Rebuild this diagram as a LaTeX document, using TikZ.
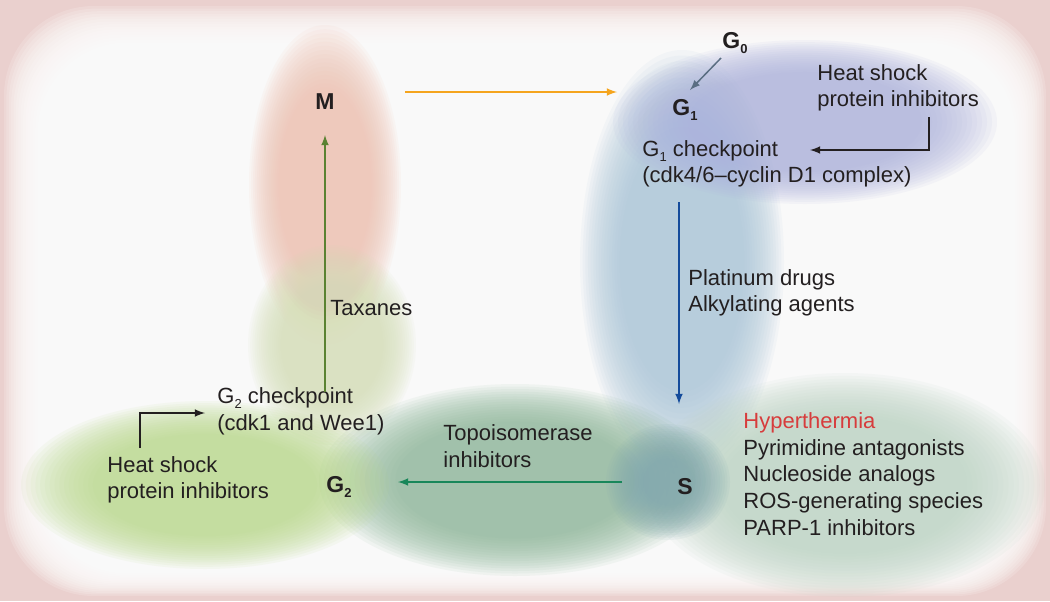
\documentclass[tikz,border=0pt]{standalone}
\usepackage{fontspec}
\setmainfont{Liberation Sans}
\usepackage{tikz}
\usetikzlibrary{positioning}
\usetikzlibrary{calc}
\usepackage{xcolor}

\definecolor{txt}{RGB}{35,31,32}
\definecolor{frame}{RGB}{234,208,206}
\definecolor{mblob}{RGB}{238,192,175}
\definecolor{taxblob}{RGB}{214,224,184}
\definecolor{gblue}{RGB}{168,197,216}
\definecolor{gpurple}{RGB}{172,178,220}
\definecolor{tealblob}{RGB}{140,182,152}
\definecolor{sblob}{RGB}{188,212,195}
\definecolor{g2blob}{RGB}{186,217,138}
\definecolor{sspot}{RGB}{128,167,174}
\definecolor{arrorange}{RGB}{245,165,30}
\definecolor{arrgrey}{RGB}{90,110,130}
\definecolor{arrblue}{RGB}{20,75,155}
\definecolor{arrteal}{RGB}{25,135,90}
\definecolor{arrolive}{RGB}{90,130,50}
\definecolor{hyper}{RGB}{215,60,60}

\newcommand{\sub}[1]{\raisebox{-0.45ex}{\fontsize{6.5}{7}\selectfont #1}}

\begin{document}
\begin{tikzpicture}[x=0.5pt, y=-0.5pt,
        every node/.style={font=\fontsize{11}{13.3}\selectfont, inner sep=0pt, text=txt},
        lbl/.style={align=left, anchor=west},
        ph/.style={font=\fontsize{11.5}{14}\selectfont\bfseries},
        blob/.style={fill=#1, fill opacity=0.085},
        conn/.style={draw=#1, line width=0.75pt, -latex}]
        \useasboundingbox (0,0) rectangle (1050,601);

        % frame
        \fill[frame] (0,0) rectangle (1050,601);
        \foreach \k in {0,...,24}
            \fill[white, fill opacity=0.16, rounded corners=45pt]
                (4+2.4*\k,6+2.6*\k) rectangle (1046-2.2*\k,596-1.6*\k);

        % phases
        \foreach \k in {0,...,15} {
            \pgfmathsetmacro\s{1-0.026*\k}
            \fill[blob=gblue] (682,262) ellipse [x radius=102*\s, y radius=212*\s];
        }
        \foreach \k in {0,...,15} {
            \pgfmathsetmacro\s{1-0.026*\k}
            \fill[blob=gpurple] (805,122) ellipse [x radius=192*\s, y radius=82*\s];
        }
        \foreach \k in {0,...,15} {
            \pgfmathsetmacro\s{1-0.026*\k}
            \fill[blob=mblob] (325,185) ellipse [x radius=76*\s, y radius=160*\s];
        }
        \foreach \k in {0,...,15} {
            \pgfmathsetmacro\s{1-0.026*\k}
            \fill[blob=taxblob] (332,345) ellipse [x radius=84*\s, y radius=100*\s];
        }
        \foreach \k in {0,...,15} {
            \pgfmathsetmacro\s{1-0.026*\k}
            \fill[blob=sblob] (845,485) ellipse [x radius=200*\s, y radius=112*\s];
        }
        \foreach \k in {0,...,15} {
            \pgfmathsetmacro\s{1-0.026*\k}
            \fill[blob=tealblob] (515,480) ellipse [x radius=196*\s, y radius=96*\s];
        }
        \foreach \k in {0,...,15} {
            \pgfmathsetmacro\s{1-0.026*\k}
            \fill[blob=g2blob] (205,485) ellipse [x radius=184*\s, y radius=84*\s];
        }
        \foreach \k in {0,...,15} {
            \pgfmathsetmacro\s{1-0.04*\k}
            \fill[blob=sspot] (668,482) ellipse [x radius=62*\s, y radius=58*\s];
        }

        % labels
        \node[ph] (m) at (325,102) {M};
        \node[ph] (g0) at (735,43) {G\sub{0}};
        \node[ph] (g1) at (685,110) {G\sub{1}};
        \node[ph] (g2) at (339,487) {G\sub{2}};
        \node[ph] (s) at (685,487) {S};

        \node[lbl] (hsp1) at (817,88) {Heat shock\\protein inhibitors};
        \node[lbl] (g1cp) at (642,164) {G\sub{1} checkpoint\\(cdk4/6--cyclin D1 complex)};
        \node[lbl] (plat) at (688,293) {Platinum drugs\\Alkylating agents};
        \node[lbl] (sdrug) at (743,474) {\textcolor{hyper}{Hyperthermia}\\Pyrimidine antagonists\\Nucleoside analogs\\ROS-generating species\\PARP-1 inhibitors};
        \node[lbl] (topo) at (443,446) {Topoisomerase\\inhibitors};
        \node[lbl] (g2cp) at (217,411) {G\sub{2} checkpoint\\(cdk1 and Wee1)};
        \node[lbl] (hsp2) at (107,480) {Heat shock\\protein inhibitors};
        \node[lbl] (tax) at (330,308) {Taxanes};

        \coordinate (mend) at (405,92);
        \coordinate (g1end) at (617,92);
        \coordinate (g0start) at (721,58);
        \coordinate (g0end) at (690,90);
        \coordinate (hsp1start) at (929,117);
        \coordinate (g1cpend) at (810,150);
        \coordinate (g1cpdown) at (679,202);
        \coordinate (send) at (679,404);
        \coordinate (sleft) at (622,482);
        \coordinate (g2end) at (398,482);
        \coordinate (g2up) at (325,392);
        \coordinate (mup) at (325,135);
        \coordinate (hsp2start) at (140,448);
        \coordinate (g2cpend) at (205,413);

        % connectors
        \draw[conn=arrorange] (mend) -- (g1end);
        \draw[conn=arrgrey] (g0start) -- (g0end);
        \draw[conn=txt] (hsp1start) |- (g1cpend);
        \draw[conn=arrblue] (g1cpdown) -- (send);
        \draw[conn=arrteal] (sleft) -- (g2end);
        \draw[conn=arrolive] (g2up) -- (mup);
        \draw[conn=txt] (hsp2start) |- (g2cpend);
    \end{tikzpicture}
\end{document}
